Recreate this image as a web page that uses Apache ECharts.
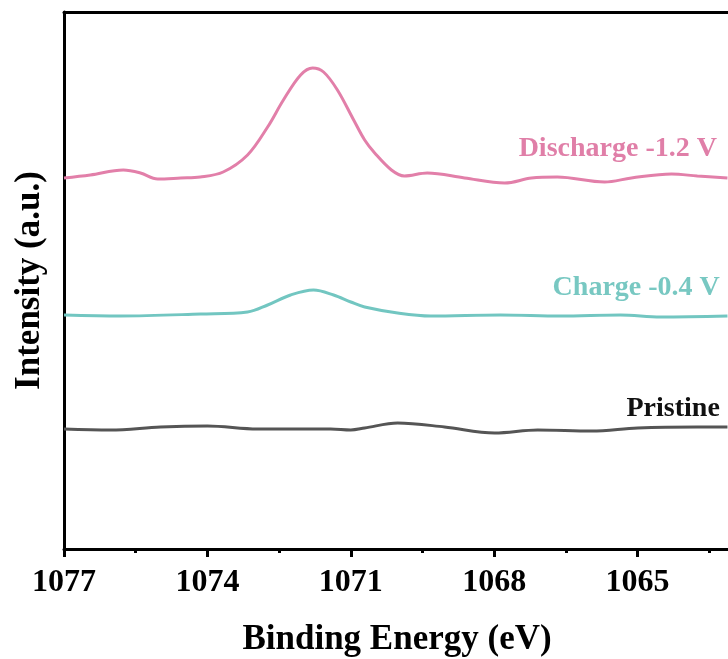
<!DOCTYPE html>
<html>
<head>
<meta charset="utf-8">
<style>
  html, body { margin: 0; padding: 0; background: #ffffff; }
  #chart { width: 728px; height: 659px; }
</style>
<script src="https://cdn.jsdelivr.net/npm/echarts@6/dist/echarts.min.js"></script>
</head>
<body>
<div id="chart"></div>
<script>
// XPS spectra, binding energy (eV) vs stacked intensity (a.u.)
const dischargeEnergy = [1077.0, 1076.45, 1075.76, 1075.40, 1075.04, 1074.56, 1074.15, 1073.67, 1073.16, 1072.74,
  1072.41, 1072.05, 1071.80, 1071.57, 1071.28, 1070.94, 1070.71, 1070.50, 1070.15, 1069.88,
  1069.40, 1068.62, 1067.78, 1067.22, 1066.68, 1065.69, 1065.13, 1064.29, 1063.75, 1063.12];
const dischargeIntensity = [371, 374, 379, 376, 370, 371, 372, 377, 394, 422,
  449, 474, 481, 477, 459, 429, 409, 396, 379, 373,
  376, 371, 366, 371, 372, 367, 371, 375, 373, 371];

const chargeEnergy = [1077.0, 1075.82, 1074.14, 1073.16, 1072.74, 1072.26, 1071.78, 1071.36, 1071.0, 1070.71,
  1070.02, 1069.33, 1067.87, 1066.61, 1065.36, 1064.52, 1063.12];
const chargeIntensity = [234, 233, 235, 237, 244, 254, 259, 254, 247, 242,
  236, 233, 234, 233, 234, 232, 233];

const pristineEnergy = [1077.0, 1076.03, 1074.98, 1074.0, 1072.95, 1071.42, 1071.0, 1070.71, 1070.02, 1069.04,
  1067.99, 1067.09, 1065.96, 1065.0, 1063.75, 1063.12];
const pristineIntensity = [120, 119, 122, 123, 120, 120, 119, 121, 126, 122,
  116, 119, 118, 121, 122, 122];

const seriesNames = ['Discharge -1.2 V', 'Charge -0.4 V', 'Pristine'];
const seriesColors = ['#e27fa9', '#72c6c1', '#555555'];
const labelColors = ['#e07fa8', '#78c8c2', '#111111'];
// anchor (right end, vertical centre) of each curve label, in data units
const labelAnchors = [[1063.34, 400], [1063.28, 261], [1063.28, 140]];

const xTitle = 'Binding Energy (eV)';
const yTitle = 'Intensity (a.u.)';

function pairs(xs, ys) { return xs.map((x, i) => [x, ys[i]]); }

const serif = '"Liberation Serif", "Times New Roman", serif';
const energies = [dischargeEnergy, chargeEnergy, pristineEnergy];
const intensities = [dischargeIntensity, chargeIntensity, pristineIntensity];

const series = seriesNames.map((name, k) => ({
  name: name,
  type: 'line',
  data: pairs(energies[k], intensities[k]),
  smooth: 0.35,
  showSymbol: false,
  lineStyle: { color: seriesColors[k], width: 3 },
  clip: true,
  z: 3,
  markPoint: {
    symbol: 'rect',
    symbolSize: 0,
    silent: true,
    data: [{
      coord: labelAnchors[k],
      label: {
        show: true,
        position: 'left',
        distance: 0,
        formatter: name,
        color: labelColors[k],
        fontFamily: serif,
        fontWeight: 'bold',
        fontSize: 28
      }
    }]
  }
}));

const chart = echarts.init(document.getElementById('chart'), null, { renderer: 'canvas' });
chart.setOption({
  animation: false,
  backgroundColor: '#ffffff',
  grid: { left: 64, top: 12, width: 717, height: 537, containLabel: false, outerBoundsMode: 'none' },
  xAxis: [{
    type: 'value',
    min: 1062,
    max: 1077,
    interval: 3,
    inverse: true,
    position: 'bottom',
    axisLine: { show: true, onZero: false, lineStyle: { color: '#000', width: 3 } },
    axisTick: { show: true, inside: false, length: 8, lineStyle: { color: '#000', width: 3 } },
    minorTick: { show: true, splitNumber: 2, length: 4, lineStyle: { color: '#000', width: 3 } },
    axisLabel: { show: true, margin: 18, color: '#000', fontFamily: serif, fontWeight: 'bold', fontSize: 32,
      formatter: v => String(v) },
    splitLine: { show: false }
  }, {
    type: 'value',
    min: 1062,
    max: 1077,
    interval: 3,
    inverse: true,
    position: 'top',
    axisLine: { show: true, onZero: false, lineStyle: { color: '#000', width: 3 } },
    axisTick: { show: false },
    axisLabel: { show: false },
    splitLine: { show: false }
  }],
  yAxis: {
    type: 'value',
    min: 0,
    max: 537,
    axisLine: { show: true, onZero: false, lineStyle: { color: '#000', width: 3 } },
    axisTick: { show: false },
    axisLabel: { show: false },
    splitLine: { show: false },
    name: yTitle,
    nameLocation: 'middle',
    nameRotate: 90,
    nameGap: 17,
    nameTextStyle: { color: '#000', fontFamily: serif, fontWeight: 'bold', fontSize: 35 }
  },
  graphic: [{
    type: 'text',
    x: 397,
    y: 640,
    style: {
      text: xTitle,
      fill: '#000',
      font: 'bold 35px ' + serif,
      align: 'center',
      verticalAlign: 'middle'
    }
  }],
  series: series
});
</script>
</body>
</html>
